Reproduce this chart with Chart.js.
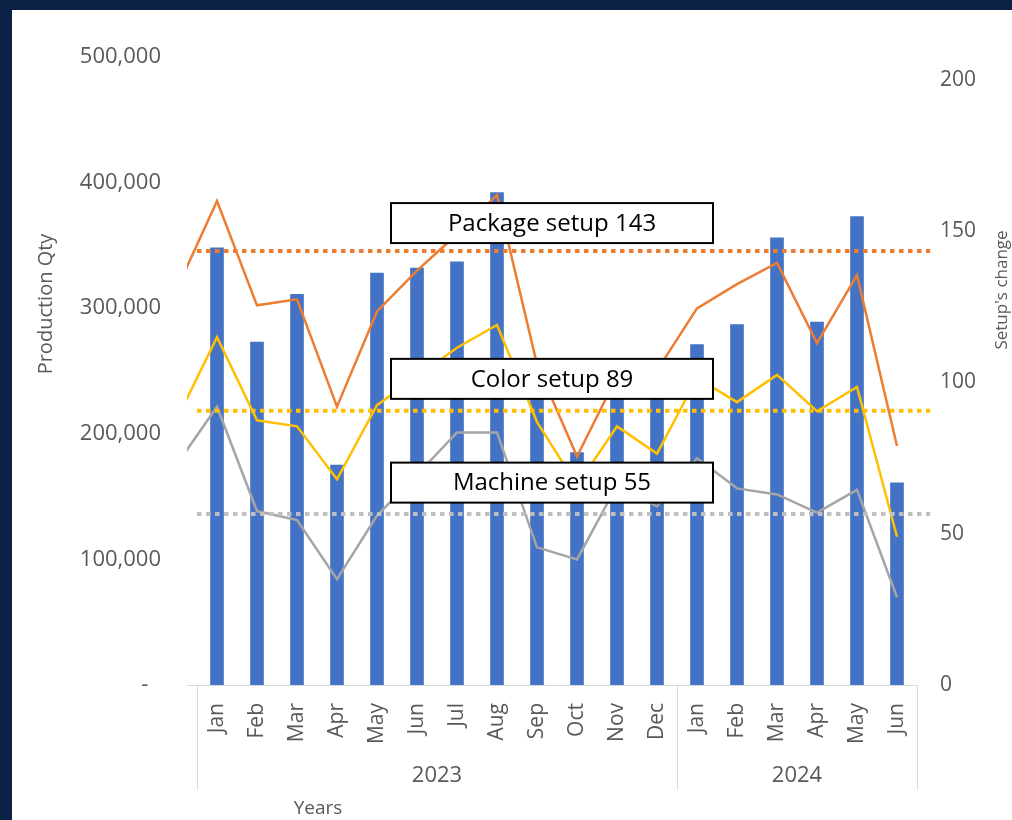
<!DOCTYPE html>
<html><head><meta charset="utf-8">
<script src="https://cdn.jsdelivr.net/npm/chart.js@4.4.1/dist/chart.umd.min.js"></script>
<style>
html,body{margin:0;padding:0;background:#0b2145;width:1012px;height:820px;overflow:hidden}
#wrap{position:absolute;left:12px;top:10px;width:1000px;height:810px;background:#fff}
canvas{display:block}
</style></head><body>
<div id="wrap"><canvas id="c" width="1000" height="810"></canvas></div>
<script>
// ---- data (index 0 = Dec 2022, only partly visible at the left edge) ----
const months = ['Dec','Jan','Feb','Mar','Apr','May','Jun','Jul','Aug','Sep','Oct','Nov','Dec','Jan','Feb','Mar','Apr','May','Jun'];
const years = ['2023','2024'];
const yearFirst = [1,13];
const yearLast = [12,18];
const productionQty = [null,348000,273000,311000,175000,328000,332000,337000,392000,245000,185000,240000,235000,271000,287000,356000,289000,373000,161000];
const packageSetup = [131,160,125.5,127.5,92,123.5,137,149,162,106,75.5,102,104,124.5,132.5,139.5,113,135.5,79];
const colorSetup   = [88,115,87.5,85.5,68,92.5,102,111.5,119,87,66,85.5,76.5,101.5,93.5,102.5,90.5,98.5,49];
const machineSetup = [73,92,57.5,54.5,35,56,69.5,83.5,83.5,45.5,41.5,66,59,75,65,63,57,64.5,29];
const avgLabels = ['Package setup 143','Color setup 89','Machine setup 55'];
const avgValues = [143.5,90.7,56.5];
const leftTicks = [0,100000,200000,300000,400000,500000];
const rightTicks = [0,50,100,150,200];

Chart.defaults.font.family = "'Open Sans', sans-serif";
const pts = arr => arr.map((v,i)=>({x:i,y:v}));
const avgLine = (v,color) => ({type:'line', data:[{x:0.5,y:v},{x:18.83,y:v}], yAxisID:'y1',
  borderColor:color, borderWidth:4, borderDash:[4.5,4.5], pointRadius:0, clip:false, order:2});

const boxCenters = [152.7, 101.2, 66.9]; // right-axis positions of the label boxes

const extras = {
  id:'extras',
  afterDraw(chart){
    const {ctx, chartArea:a, scales:{x, y1}} = chart;
    ctx.save();
    // label boxes
    ctx.font = "24px 'Open Sans'";
    ctx.textAlign='center'; ctx.textBaseline='middle';
    avgLabels.forEach((t,i)=>{
      const cx = x.getPixelForValue(9.375), cy = y1.getPixelForValue(boxCenters[i]);
      const w=322, h=40;
      ctx.fillStyle='#fff'; ctx.fillRect(cx-w/2, cy-h/2, w, h);
      ctx.lineWidth=2; ctx.strokeStyle='#000'; ctx.strokeRect(cx-w/2, cy-h/2, w, h);
      ctx.fillStyle='#000'; ctx.fillText(t, cx, cy+1);
    });
    // year group separators
    ctx.strokeStyle='#D9D9D9'; ctx.lineWidth=1;
    [0.5, 12.5, 18.5].forEach(v=>{
      const px = Math.round(x.getPixelForValue(v))+0.5;
      ctx.beginPath(); ctx.moveTo(px, a.bottom); ctx.lineTo(px, a.bottom+105); ctx.stroke();
    });
    ctx.fillStyle='#595959';
    ctx.font = "22px 'Open Sans'";
    years.forEach((yr,i)=>{
      const cx = (x.getPixelForValue(yearFirst[i]-0.5)+x.getPixelForValue(yearLast[i]+0.5))/2;
      ctx.fillText(yr, cx, a.bottom+91);
    });
    // axis titles
    ctx.font = "19px 'Open Sans'";
    ctx.fillText('Years', 306, 799);
    ctx.save(); ctx.translate(34, 294); ctx.rotate(-Math.PI/2);
    ctx.font = "20px 'Open Sans'"; ctx.fillText('Production Qty', 0, 0); ctx.restore();
    ctx.save(); ctx.translate(990, 280); ctx.rotate(-Math.PI/2);
    ctx.font = "17px 'Open Sans'"; ctx.fillText("Setup's change", 0, 0); ctx.restore();
    ctx.restore();
  }
};

new Chart(document.getElementById('c'), {
  type:'bar',
  data:{datasets:[
    {type:'bar', label:'Production Qty', data:pts(productionQty), yAxisID:'y', backgroundColor:'#4472C4', barThickness:13, order:10},
    {type:'line', label:'Machine setup', data:pts(machineSetup), yAxisID:'y1', borderColor:'#A5A5A5', borderWidth:2.5, pointRadius:0, order:5},
    {type:'line', label:'Color setup', data:pts(colorSetup), yAxisID:'y1', borderColor:'#FFC000', borderWidth:2.5, pointRadius:0, order:4},
    {type:'line', label:'Package setup', data:pts(packageSetup), yAxisID:'y1', borderColor:'#ED7D31', borderWidth:2.5, pointRadius:0, order:3},
    avgLine(avgValues[2], '#BFBFBF'),
    avgLine(avgValues[1], '#FFC000'),
    avgLine(avgValues[0], '#ED7D31')
  ]},
  options:{
    responsive:false, animation:false, devicePixelRatio:1,
    layout:{padding:{top:47,left:0,right:0,bottom:0}},
    plugins:{legend:{display:false}, tooltip:{enabled:false}},
    scales:{
      x:{type:'linear', min:0.25, max:18.5, offset:false,
        afterBuildTicks:s=>{ s.ticks = months.map((m,i)=>({value:i})).filter(t=>t.value>=1); },
        ticks:{autoSkip:false, minRotation:90, maxRotation:90, padding:18, color:'#595959', font:{size:21},
          callback:v=>months[v]},
        grid:{display:false, drawTicks:false},
        border:{display:true, color:'#D9D9D9', width:1},
        afterFit:s=>{ s.height = 135; }
      },
      y:{position:'left', min:0, max:500000,
        afterBuildTicks:s=>{ s.ticks = leftTicks.map(v=>({value:v})); },
        ticks:{padding:26, color:'#595959', font:{size:22},
          callback:v=> v===0 ? '-\u2007' : v.toLocaleString('en-US')},
        grid:{display:false, drawTicks:false}, border:{display:false},
        afterFit:s=>{ s.width = 175; }
      },
      y1:{position:'right', min:0, max:207.6,
        afterBuildTicks:s=>{ s.ticks = rightTicks.map(v=>({value:v})); },
        ticks:{padding:23, color:'#595959', font:{size:21}, callback:v=>String(v)},
        grid:{display:false, drawTicks:false}, border:{display:false},
        afterFit:s=>{ s.width = 95; }
      }
    }
  },
  plugins:[extras]
});
</script>
</body></html>
